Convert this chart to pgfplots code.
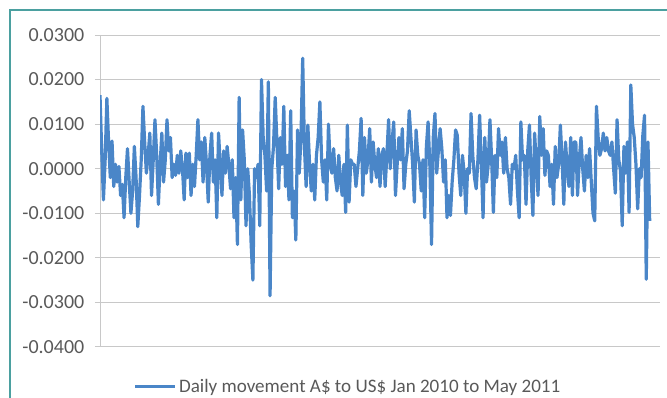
\documentclass[border=0pt]{standalone}
\usepackage{fontspec}
\setmainfont{Carlito}
\usepackage{pgfplots}
\usepackage{pgfplotstable}
\pgfplotsset{compat=1.18}
\definecolor{lineblue}{RGB}{74,134,200}
\definecolor{gridgray}{RGB}{200,200,200}
\definecolor{labelgray}{RGB}{89,89,89}
\definecolor{frameteal}{RGB}{75,160,160}
\pgfplotstableread{
y
0.0165
0.0040
-0.0070
0.0020
0.0158
0.0060
-0.0020
0.0062
-0.0040
0.0010
-0.0030
0.0005
-0.0060
-0.0035
-0.0110
-0.0020
0.0045
-0.0030
-0.0100
-0.0050
0.0050
-0.0020
-0.0130
-0.0060
0.0020
0.0140
0.0060
-0.0010
0.0030
0.0080
-0.0060
0.0020
0.0110
0.0030
-0.0080
0.0010
0.0080
-0.0030
0.0020
0.0110
0.0040
0.0070
-0.0020
0.0010
-0.0015
0.0030
-0.0010
0.0040
0.0000
-0.0070
0.0035
-0.0020
0.0035
-0.0060
0.0010
-0.0040
0.0030
0.0110
0.0020
0.0060
-0.0030
0.0070
0.0010
-0.0075
0.0030
0.0080
-0.0030
0.0020
-0.0110
0.0080
0.0010
-0.0060
0.0040
-0.0010
0.0050
0.0010
-0.0045
0.0020
-0.0110
-0.0020
-0.0170
0.0160
-0.0070
0.0087
0.0020
-0.0128
0.0000
-0.0060
-0.0170
-0.0250
0.0000
-0.0020
0.0010
-0.0128
0.0200
0.0070
0.0030
-0.0050
0.0195
-0.0285
0.0000
0.0050
0.0160
0.0060
-0.0045
0.0070
0.0010
0.0140
-0.0040
0.0030
-0.0070
0.0130
-0.0110
-0.0050
-0.0160
0.0087
-0.0010
0.0070
0.0248
0.0050
-0.0040
0.0098
0.0010
-0.0050
0.0010
-0.0070
0.0030
0.0070
0.0150
0.0020
-0.0030
0.0020
-0.0070
0.0100
0.0010
-0.0010
0.0045
-0.0020
-0.0050
0.0030
-0.0030
-0.0060
0.0010
-0.0098
0.0098
-0.0075
0.0020
0.0010
0.0010
-0.0040
0.0000
0.0040
0.0113
-0.0060
0.0070
-0.0010
0.0020
0.0090
-0.0030
0.0060
0.0010
-0.0020
0.0045
-0.0040
0.0030
0.0045
-0.0040
0.0030
0.0110
0.0000
0.0060
0.0105
-0.0060
0.0010
0.0070
0.0020
0.0090
-0.0045
0.0010
0.0040
0.0130
0.0070
0.0010
-0.0075
0.0087
0.0030
0.0010
-0.0050
0.0020
-0.0110
0.0050
0.0105
0.0010
-0.0170
0.0070
0.0124
-0.0010
0.0040
0.0090
0.0045
-0.0030
0.0020
-0.0110
-0.0060
-0.0105
-0.0030
0.0020
0.0087
0.0075
-0.0010
-0.0060
0.0030
-0.0010
-0.0100
0.0000
-0.0010
0.0124
0.0030
-0.0020
-0.0045
0.0020
0.0120
0.0010
-0.0110
0.0070
-0.0030
0.0010
0.0110
0.0020
-0.0098
0.0030
-0.0020
0.0090
0.0030
0.0060
-0.0010
0.0070
0.0000
-0.0020
-0.0080
0.0010
0.0000
0.0030
-0.0050
-0.0110
0.0105
0.0020
0.0030
-0.0080
0.0040
0.0098
-0.0020
-0.0105
0.0080
0.0010
-0.0060
0.0117
0.0030
0.0090
-0.0015
0.0040
0.0030
-0.0040
0.0010
-0.0080
0.0050
-0.0020
0.0010
0.0098
0.0020
-0.0080
0.0060
0.0000
-0.0040
0.0070
-0.0060
0.0060
0.0060
-0.0060
0.0020
0.0070
0.0000
-0.0050
0.0030
-0.0020
0.0045
-0.0030
-0.0100
-0.0117
0.0140
0.0070
0.0030
0.0045
0.0080
0.0040
0.0070
0.0040
0.0030
0.0060
0.0000
-0.0055
0.0110
0.0020
-0.0005
-0.0128
0.0050
-0.0010
0.0060
-0.0098
0.0188
0.0100
0.0070
0.0010
-0.0090
0.0000
-0.0020
0.0075
0.0120
-0.0248
0.0060
-0.0117
}\datatable
\begin{document}
\begin{tikzpicture}
\path[use as bounding box] (0pt,0pt) rectangle (500.25pt,-298.5pt);
\draw[frameteal, line width=0.9pt] (7.5pt,-298.5pt) -- (7.5pt,-7.5pt) -- (500.25pt,-7.5pt);
\begin{axis}[
  at={(75pt,-260.25pt)}, anchor=south west,
  width=420pt, height=234pt, scale only axis,
  xmin=0, xmax=326, ymin=-0.04, ymax=0.03,
  ytick={-0.04,-0.03,-0.02,-0.01,0,0.01,0.02,0.03},
  scaled y ticks=false,
  axis x line=none,
  axis y line*=left,
  y axis line style={gridgray, line width=0.75pt, -},
  ymajorgrids,
  grid style={gridgray, line width=0.75pt},
  tick style={gridgray, line width=0.75pt},
  major tick length=3.75pt, tick align=outside,
  yticklabel style={/pgf/number format/.cd, fixed, fixed zerofill, precision=4, assume math mode=true, /tikz/.cd, font=\fontsize{15}{16}\selectfont, text=labelgray, xshift=-4.5pt},
  legend style={at={(0.443,-0.127)}, anchor=center, draw=none, fill=none, font=\fontsize{14.3}{15}\selectfont, text=labelgray, nodes={inner sep=1.5pt}},
  legend image code/.code={\draw[#1, line width=2.4pt] (0pt,0pt) -- (30pt,0pt);},
]
\addplot[lineblue, line width=2.4pt, line join=round, no markers] table[x expr=\coordindex, y=y] {\datatable};
\addlegendentry{Daily movement A\$ to US\$ Jan 2010 to May 2011}
\end{axis}
\end{tikzpicture}
\end{document}
